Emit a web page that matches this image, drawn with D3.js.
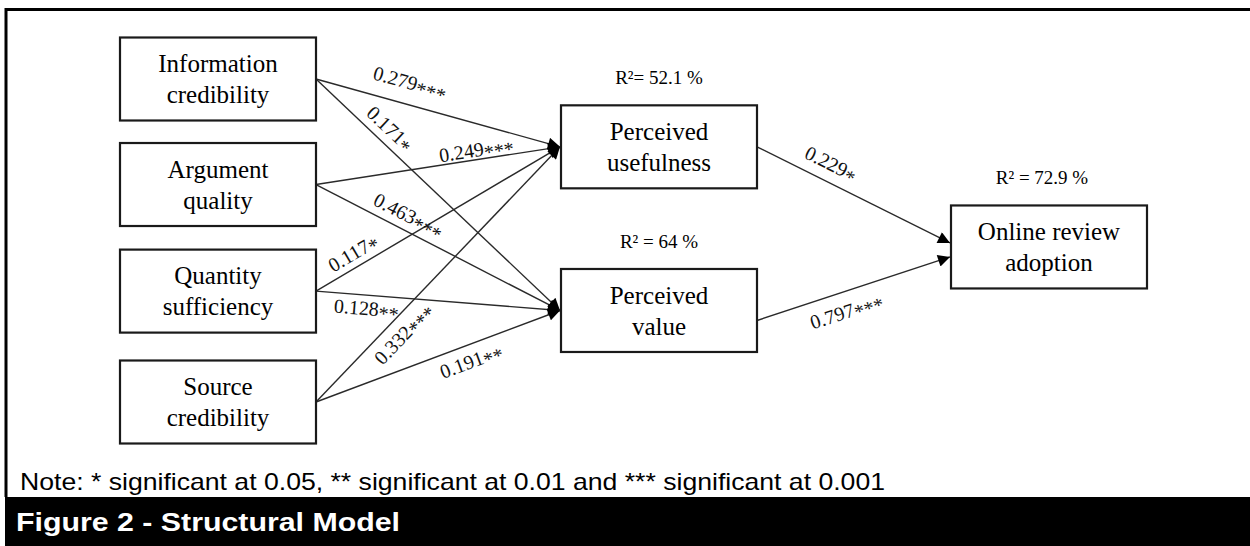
<!DOCTYPE html>
<html>
<head>
<meta charset="utf-8">
<script src="https://cdn.jsdelivr.net/npm/d3@7"></script>
<style>
  body { margin: 0; background: #fff; }
  svg { display: block; }
</style>
</head>
<body>
<svg id="chart" width="1250" height="546"></svg>
<script>
// constructs of the model
var predictors = [["Information", "credibility"], ["Argument", "quality"], ["Quantity", "sufficiency"], ["Source", "credibility"]];
var mediators = [["Perceived", "usefulness"], ["Perceived", "value"]];
var outcomes = [["Online review", "adoption"]];

// explained variance of the endogenous constructs
var r2Labels = ["R\u00b2= 52.1 %", "R\u00b2 = 64 %", "R\u00b2 = 72.9 %"];

// path coefficients: predictor -> mediator, then mediator -> outcome
var pathFrom = [0, 0, 1, 1, 2, 2, 3, 3];
var pathTo = [0, 1, 0, 1, 0, 1, 0, 1];
var pathCoef = ["0.279", "0.171", "0.249", "0.463", "0.117", "0.128", "0.332", "0.191"];
var pathSig = ["***", "*", "***", "***", "*", "**", "***", "**"];
var outCoef = ["0.229", "0.797"];
var outSig = ["*", "***"];

var note = "Note: * significant at 0.05, ** significant at 0.01 and *** significant at 0.001";
var caption = "Figure 2 - Structural Model";

// ---- layout (kept apart from the data) ----
var boxW = 196, boxH = 83;
var colLeft = [120, 561, 951];
var rowY = d3.scaleLinear().domain([0, 3]).range([79, 402]);   // vertical slot -> centre y
var predSlot = [0, 0.98, 1.97, 3];
var medSlot = [0.63, 2.15];
var outSlot = [1.56];
// label position along each path (t) and perpendicular offset
var predLabelT = [0.36, 0.26, 0.66, 0.35, 0.18, 0.21, 0.31, 0.61];
var predLabelOff = [-22, -15, -10, -15, -14, 13, 16, 16];
var outLabelT = [0.34, 0.43];
var outLabelOff = [-18, 19];
var outSrcDy = [0, 10], outTgtDy = [-4, 10];

var svg = d3.select("#chart");
var serif = "'Liberation Serif', 'Times New Roman', serif";
var sans = "'Liberation Sans', Arial, sans-serif";

svg.append("defs").append("marker")
  .attr("id", "arrow")
  .attr("viewBox", "0 0 10 10")
  .attr("refX", 10).attr("refY", 5)
  .attr("markerWidth", 14).attr("markerHeight", 12)
  .attr("markerUnits", "userSpaceOnUse")
  .attr("orient", "auto")
  .append("path")
  .attr("d", "M0,0 L10,5 L0,10 z")
  .attr("fill", "#000");

// frame
svg.append("path")
  .attr("d", "M6,497 L6,9.5 L1250,9.5")
  .attr("fill", "none").attr("stroke", "#000").attr("stroke-width", 3);
svg.append("rect")
  .attr("x", 5).attr("y", 497).attr("width", 1245).attr("height", 49)
  .attr("fill", "#000");

function nodeBox(col, slot) {
  var cy = rowY(slot);
  return { x: colLeft[col], y: cy - boxH / 2, cx: colLeft[col] + boxW / 2, cy: cy };
}

var predNodes = predictors.map(function(d, i) { return Object.assign({ lines: d }, nodeBox(0, predSlot[i])); });
var medNodes = mediators.map(function(d, i) { return Object.assign({ lines: d }, nodeBox(1, medSlot[i])); });
var outNodes = outcomes.map(function(d, i) { return Object.assign({ lines: d }, nodeBox(2, outSlot[i])); });

// build edges
var edges = [];
pathFrom.forEach(function(f, i) {
  var s = predNodes[f], t = medNodes[pathTo[i]];
  edges.push({ x1: s.x + boxW, y1: s.cy, x2: t.x, y2: t.cy, coef: pathCoef[i], sig: pathSig[i], lt: predLabelT[i], off: predLabelOff[i] });
});
outCoef.forEach(function(c, i) {
  var s = medNodes[i], t = outNodes[0];
  edges.push({ x1: s.x + boxW, y1: s.cy + outSrcDy[i], x2: t.x, y2: t.cy + outTgtDy[i], coef: c, sig: outSig[i], lt: outLabelT[i], off: outLabelOff[i] });
});

svg.selectAll(".edge")
  .data(edges)
  .enter().append("line")
  .attr("class", "edge")
  .attr("x1", function(d) { return d.x1; })
  .attr("y1", function(d) { return d.y1; })
  .attr("x2", function(d) { return d.x2 - 1; })
  .attr("y2", function(d) { return d.y2; })
  .attr("stroke", "#2a2a2a")
  .attr("stroke-width", 1.4)
  .attr("marker-end", "url(#arrow)");

// coefficient labels, rotated along their path
var lbl = svg.selectAll(".coef")
  .data(edges)
  .enter().append("text")
  .attr("class", "coef")
  .attr("transform", function(d) {
    var dx = d.x2 - d.x1, dy = d.y2 - d.y1, len = Math.sqrt(dx * dx + dy * dy);
    var nx = -dy / len, ny = dx / len;
    var px = d.x1 + dx * d.lt + nx * d.off;
    var py = d.y1 + dy * d.lt + ny * d.off;
    var ang = Math.atan2(dy, dx) * 180 / Math.PI;
    return "translate(" + px + "," + py + ") rotate(" + ang + ")";
  })
  .attr("text-anchor", "middle")
  .attr("dy", "0.35em")
  .style("font-family", serif)
  .style("font-size", "20px")
  .style("fill", "#111");
lbl.append("tspan").text(function(d) { return d.coef; });
lbl.append("tspan").attr("dy", "0.2em").style("font-size", "20px").text(function(d) { return d.sig; });

// boxes
var allNodes = predNodes.concat(medNodes, outNodes);
var g = svg.selectAll(".node")
  .data(allNodes)
  .enter().append("g")
  .attr("class", "node");

g.append("rect")
  .attr("x", function(d) { return d.x; })
  .attr("y", function(d) { return d.y; })
  .attr("width", boxW)
  .attr("height", boxH)
  .attr("fill", "#fff")
  .attr("stroke", "#1a1a1a")
  .attr("stroke-width", 2.2);

g.each(function(d) {
  var t = d3.select(this).append("text")
    .attr("text-anchor", "middle")
    .style("font-family", serif)
    .style("font-size", "25px")
    .style("fill", "#000");
  d.lines.forEach(function(line, i) {
    t.append("tspan")
      .attr("x", d.cx)
      .attr("y", d.cy - 15.5 + i * 31)
      .attr("dy", "0.35em")
      .text(line);
  });
});

// R squared labels above the endogenous boxes
var endo = medNodes.concat(outNodes);
svg.selectAll(".r2")
  .data(r2Labels)
  .enter().append("text")
  .attr("class", "r2")
  .attr("x", function(d, i) { return endo[i].cx + (i == 2 ? -7 : 0); })
  .attr("y", function(d, i) { return endo[i].y - 28; })
  .attr("dy", "0.35em")
  .attr("text-anchor", "middle")
  .style("font-family", serif)
  .style("font-size", "19px")
  .text(function(d) { return d; });

// note and caption (the source figure is stretched horizontally)
svg.append("text")
  .attr("x", 20).attr("y", 482).attr("dy", "0.35em")
  .attr("textLength", 865)
  .attr("lengthAdjust", "spacingAndGlyphs")
  .style("font-family", sans)
  .style("font-size", "24px")
  .text(note);

svg.append("text")
  .attr("x", 16).attr("y", 522).attr("dy", "0.35em")
  .attr("textLength", 384)
  .attr("lengthAdjust", "spacingAndGlyphs")
  .style("font-family", sans)
  .style("font-size", "25px")
  .style("font-weight", "bold")
  .style("fill", "#fff")
  .text(caption);
</script>
</body>
</html>
